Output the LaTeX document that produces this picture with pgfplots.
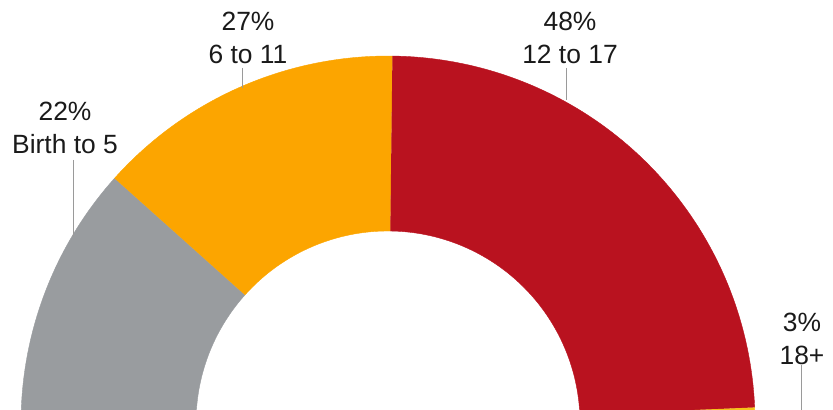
\documentclass[border=0pt]{standalone}
\usepackage{pgfplots}
\pgfplotsset{compat=1.18}
\usepackage{fontspec}
\setmainfont{Liberation Sans}
\definecolor{cgray}{HTML}{999C9F}
\definecolor{corange}{HTML}{FCA500}
\definecolor{cred}{HTML}{B9121F}
\definecolor{cyellow}{HTML}{F5C21A}
\definecolor{cline}{HTML}{9A9A9A}
\definecolor{ctext}{HTML}{1A1A1A}
% wedge: #1 = cumulative percent before, #2 = percent, #3 = colour
% angle(p) = 178 - 1.81 p ; centre (388,-13), outer radius 367, inner 192
\newcommand\donutwedge[3]{%
  \addplot[fill=#3, draw=#3, line width=0.4pt, domain=0:2, samples=241, variable=\t]
  ({388 + (\t<1.004 ? 367 : 192)*cos(178 - 1.81*(#1 + #2*(\t<1.004 ? \t : (\t<1.012 ? 1 : 2-\t))))},
   {-13 + (\t<1.004 ? 367 : 192)*sin(178 - 1.81*(#1 + #2*(\t<1.004 ? \t : (\t<1.012 ? 1 : 2-\t))))});
}
\begin{document}
\begin{tikzpicture}
\begin{axis}[
  width=833bp, height=410bp, scale only axis,
  xmin=0, xmax=833, ymin=0, ymax=410,
  axis line style={draw=none}, ticks=none,
]
\donutwedge{0}{22}{cgray}
\donutwedge{22}{27}{corange}
\donutwedge{49}{48}{cred}
\donutwedge{97}{3}{cyellow}
% leader lines
\addplot[cline, line width=1pt] coordinates {(73,250) (73,173)};
\addplot[cline, line width=1pt] coordinates {(242,342) (242,322)};
\addplot[cline, line width=1pt] coordinates {(566,342) (566,310)};
\addplot[cline, line width=1pt] coordinates {(801,45) (801,0)};
\begin{scope}[every node/.style={align=center, text=ctext, font=\fontsize{26.5}{33}\selectfont, inner sep=0pt}]
\node at (axis cs:65,282) {22\%\\Birth to 5};
\node at (axis cs:248,372) {27\%\\6 to 11};
\node at (axis cs:570,372) {48\%\\12 to 17};
\node at (axis cs:802,71) {3\%\\18+};
\end{scope}
\path (axis cs:0,0) rectangle (axis cs:833,410);
\end{axis}
\end{tikzpicture}
\end{document}
